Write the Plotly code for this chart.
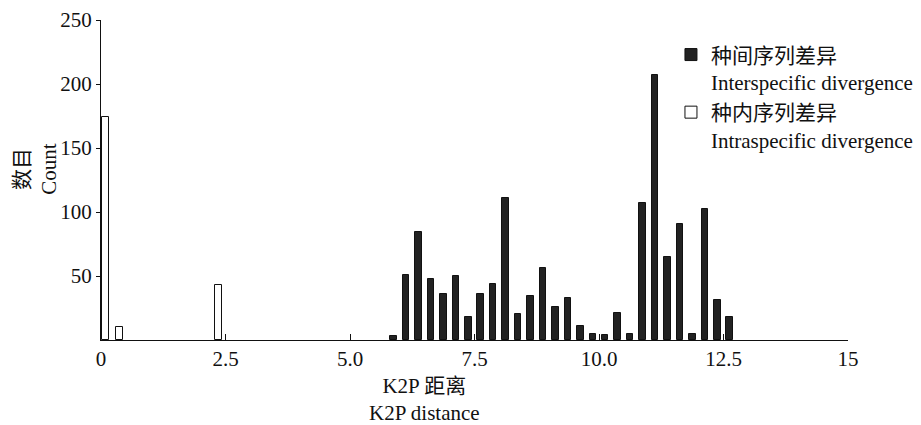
import plotly.graph_objects as go

# Data
inter_x = [5.875, 6.125, 6.375, 6.625, 6.875, 7.125, 7.375, 7.625, 7.875, 8.125,
           8.375, 8.625, 8.875, 9.125, 9.375, 9.625, 9.875, 10.125, 10.375, 10.625,
           10.875, 11.125, 11.375, 11.625, 11.875, 12.125, 12.375, 12.625]
inter_y = [3, 51, 84, 48, 36, 50, 18, 36, 44, 111,
           20, 34, 56, 26, 33, 11, 5, 4, 21, 5,
           107, 207, 65, 91, 5, 102, 31, 18]
intra_x = [0.09, 0.37, 2.36]
intra_y = [174, 10, 43]

x_tickvals = [0, 2.5, 5, 7.5, 10, 12.5, 15]
x_ticktext = ["0", "2.5", "5.0", "7.5", "10.0", "12.5", "15"]
y_tickvals = [50, 100, 150, 200, 250]

inter_name = "种间序列差异<br>Interspecific divergence"
intra_name = "种内序列差异<br>Intraspecific divergence"

FONT = "Liberation Serif, Noto Sans CJK SC, serif"

fig = go.Figure()
fig.add_trace(go.Bar(x=inter_x, y=inter_y, width=0.13, name=inter_name,
                     marker=dict(color="#222222", line=dict(color="#111111", width=1))))
fig.add_trace(go.Bar(x=intra_x, y=intra_y, width=0.13, name=intra_name,
                     marker=dict(color="white", line=dict(color="#111111", width=1))))

fig.update_layout(
    width=913, height=417,
    margin=dict(l=93, r=73, t=12, b=85, autoexpand=False),
    paper_bgcolor="white", plot_bgcolor="white",
    font=dict(family=FONT, size=21, color="#111111"),
    bargap=0,
    legend=dict(x=0.763, y=0.955, xanchor="left", yanchor="top",
                valign="top", traceorder="normal", tracegroupgap=0,
                font=dict(size=21, family=FONT), itemwidth=30,
                bgcolor="rgba(0,0,0,0)"),
    xaxis=dict(range=[0, 15], tickvals=x_tickvals, ticktext=x_ticktext,
               ticks="inside", ticklen=6, tickcolor="#111111",
               showline=True, linecolor="#111111", linewidth=1,
               showgrid=False, zeroline=False, tickfont=dict(size=21),
               automargin=False, ticklabeloverflow="allow"),
    yaxis=dict(range=[0, 250], tickvals=y_tickvals,
               ticks="outside", ticklen=4, tickcolor="#111111",
               showline=True, linecolor="#111111", linewidth=1,
               showgrid=False, zeroline=False, tickfont=dict(size=21),
               automargin=False, ticklabeloverflow="allow"),
    annotations=[
        dict(text="数目<br>Count", textangle=-90, xref="paper", yref="paper",
             x=-0.088, y=0.536, xanchor="center", yanchor="middle",
             showarrow=False, font=dict(size=21, family=FONT)),
        dict(text="K2P 距离<br>K2P distance", xref="x", yref="paper",
             x=6.5, y=-0.1, xanchor="center", yanchor="top",
             showarrow=False, font=dict(size=21, family=FONT)),
    ],
)

fig.write_html("out.html")
